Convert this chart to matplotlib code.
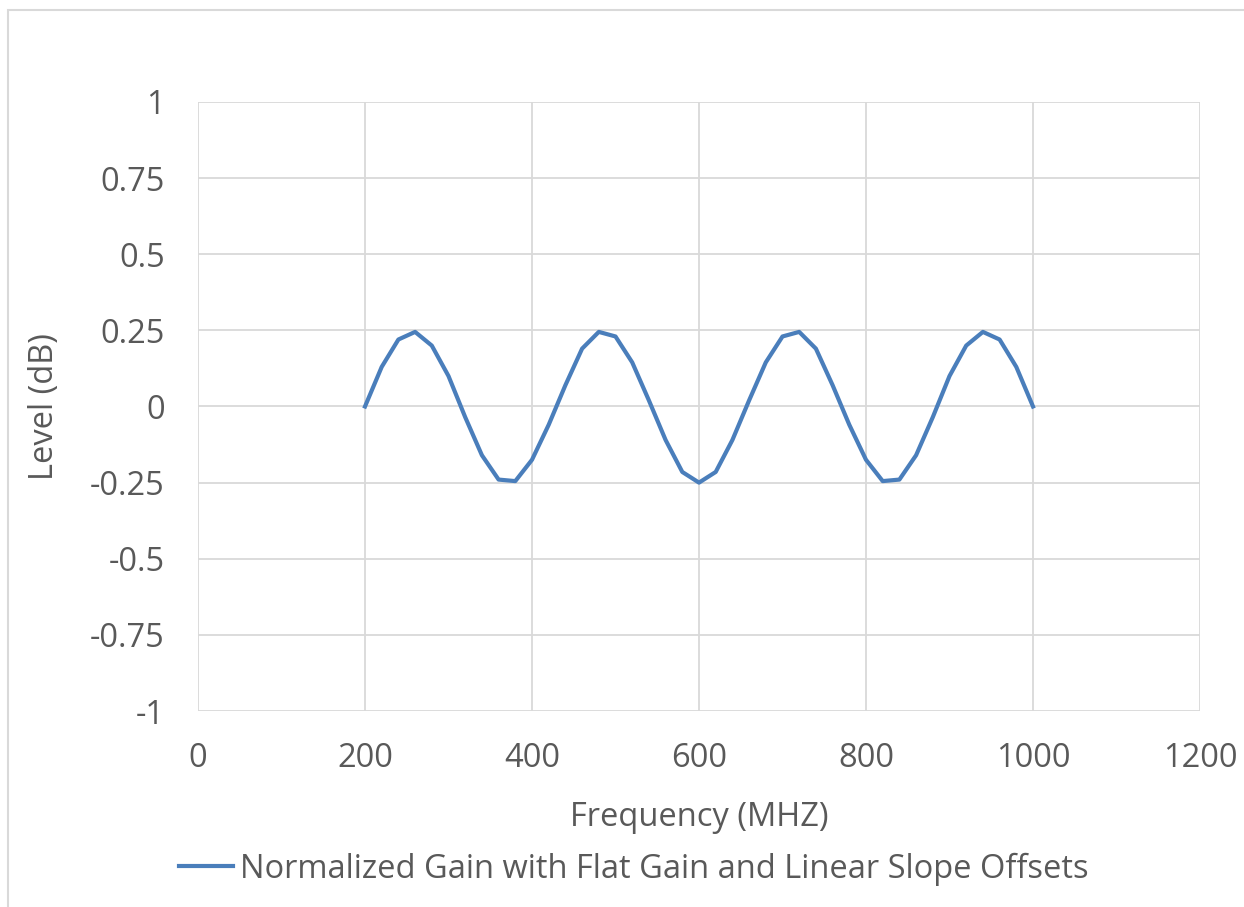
import matplotlib.pyplot as plt
from matplotlib.patches import Rectangle

# frequency sweep (MHz) and normalized level (dB)
freq = [200, 220, 240, 260, 280, 300, 320, 340, 360, 380,
        400, 420, 440, 460, 480, 500, 520, 540, 560, 580,
        600, 620, 640, 660, 680, 700, 720, 740, 760, 780,
        800, 820, 840, 860, 880, 900, 920, 940, 960, 980, 1000]
level = [0.0, 0.13, 0.22, 0.245, 0.20, 0.10, -0.035, -0.16, -0.24, -0.245,
         -0.175, -0.06, 0.07, 0.19, 0.245, 0.23, 0.145, 0.02, -0.11, -0.215,
         -0.25, -0.215, -0.11, 0.02, 0.145, 0.23, 0.245, 0.19, 0.07, -0.06,
         -0.175, -0.245, -0.24, -0.16, -0.035, 0.10, 0.20, 0.245, 0.22, 0.13, 0.0]

xticks = [0, 200, 400, 600, 800, 1000, 1200]
yticks = [-1, -0.75, -0.5, -0.25, 0, 0.25, 0.5, 0.75, 1]
ytick_labels = ['-1', '-0.75', '-0.5', '-0.25', '0', '0.25', '0.5', '0.75', '1']
series_name = 'Normalized Gain with Flat Gain and Linear Slope Offsets'

plt.rcParams['font.family'] = ['Open Sans', 'DejaVu Sans']
txt = '#595959'
grid = '#d9d9d9'
fs = 23.5

fig = plt.figure(figsize=(12.44, 9.07), dpi=100)
# chart-area border (only left/top edges visible in the reference)
fig.patches.append(Rectangle((8 / 1244, -0.1), 1.2, 1 - 10 / 907 + 0.1,
                             transform=fig.transFigure, fill=False,
                             edgecolor=grid, linewidth=1.5))

ax = fig.add_axes([198 / 1244, 1 - 711 / 907, (1200 - 198) / 1244, (711 - 102) / 907])
ax.plot(freq, level, color='#4a7ebb', linewidth=3.0, label=series_name)

ax.set_xlim(0, 1200)
ax.set_ylim(-1, 1)
ax.set_xticks(xticks)
ax.set_xticklabels([str(t) for t in xticks])
ax.set_yticks(yticks)
ax.set_yticklabels(ytick_labels)
ax.grid(True, color=grid, linewidth=1.3)
ax.set_axisbelow(True)
for s in ax.spines.values():
    s.set_visible(False)
ax.tick_params(length=0, labelsize=fs, labelcolor=txt)
ax.tick_params(axis='x', pad=22)
ax.tick_params(axis='y', pad=24)

ax.set_xlabel('Frequency (MHZ)', fontsize=fs, color=txt, labelpad=19)
ax.set_ylabel('Level (dB)', fontsize=fs, color=txt, labelpad=21)

leg = fig.legend(loc='center', bbox_to_anchor=(634 / 1244, 1 - 869 / 907),
                 frameon=False, fontsize=fs, handlelength=1.65, handletextpad=0.2)
for t in leg.get_texts():
    t.set_color(txt)

fig.savefig('out.png', dpi=100)
